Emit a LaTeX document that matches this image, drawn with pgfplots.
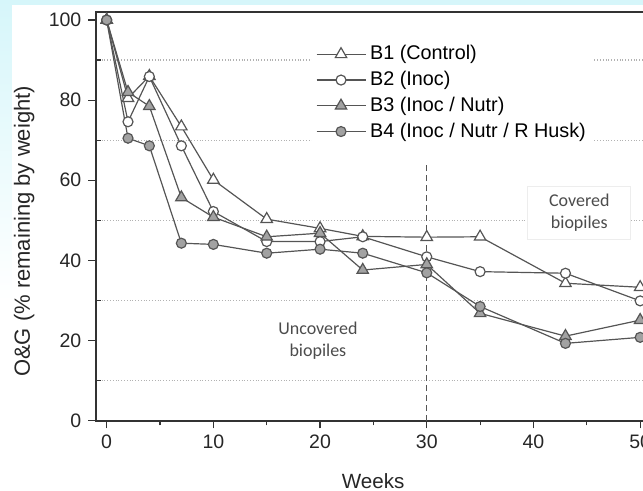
\documentclass[border=0pt]{standalone}
\usepackage{pgfplots}
\pgfplotsset{compat=1.18}
\usepackage{fontspec}
\setmainfont{Liberation Sans}
\newfontfamily\calibri{Carlito}
\definecolor{lc}{HTML}{555555}
\definecolor{fc}{HTML}{A2A2A2}
\definecolor{bgc}{HTML}{D6F6FA}
\begin{document}
\begin{tikzpicture}
\fill[bgc] (-48pt,207.85pt) rectangle (273.5pt,210.35pt);
\shade[top color=bgc, bottom color=white] (-48pt,60pt) rectangle (-42pt,210.35pt);
\begin{axis}[
  at={(0,0)}, anchor=south west,
  scale only axis, width=282.75pt, height=204.35pt,
  xmin=-1, xmax=52, ymin=0, ymax=102,
  axis line style={draw=black!80, line width=0.9pt},
  xtick={0,10,...,50}, minor xtick={5,15,...,45},
  ytick={0,20,...,100}, minor ytick={10,30,...,90},
  tick align=outside, tick pos=left,
  major tick length=3.8pt, minor tick length=2.3pt,
  tick style={draw=black!80, line width=0.6pt},
  minor y tick style={xshift=2.3pt},
  yminorgrids=true,
  minor grid style={densely dotted, draw=black!30, line width=0.6pt},
  /pgf/number format/assume math mode=true,
  tick label style={font=\fontsize{9.75}{11}\selectfont, text=black!85},
  xlabel={Weeks}, ylabel={O\&G (\% remaining by weight)},
  xlabel style={font=\fontsize{10.3}{12}\selectfont, text=black!85, at={(axis description cs:0.49,0)}, anchor=north, yshift=-23pt},
  ylabel style={font=\fontsize{11}{13}\selectfont, text=black!85, at={(axis description cs:-0.127,0.463)}, anchor=center},
  legend style={at={(axis cs:19.2,96.7)}, anchor=north west, draw=none, fill=white,
    font=\fontsize{9.9}{11}\selectfont, row sep=0.2pt, inner xsep=2pt, inner ysep=4pt},
  legend cell align=left,
  legend image code/.code={\draw[mark repeat=2,mark phase=2,#1] plot coordinates {(0pt,0pt) (12.25pt,0pt) (24.5pt,0pt)};},
]
\addplot[color=lc, line width=0.6pt, mark=triangle*, mark size=3.3pt, mark options={solid, fill=white, draw=lc}] coordinates {
(0,100)(2,80.5)(4,86)(7,73.4)(10,60.1)(15,50.3)(20,48)(24,46)(30,45.8)(35,45.9)(43,34.3)(50,33.3)};
\addlegendentry{B1 (Control)}
\addplot[color=lc, line width=0.6pt, mark=*, mark size=2.5pt, mark options={solid, fill=white, draw=lc}] coordinates {
(0,100)(2,74.6)(4,85.9)(7,68.6)(10,52.2)(15,44.7)(20,44.7)(24,45.9)(30,40.9)(35,37.2)(43,36.8)(50,29.9)};
\addlegendentry{B2 (Inoc)}
\addplot[color=lc, line width=0.6pt, mark=triangle*, mark size=3.3pt, mark options={solid, fill=fc, draw=lc}] coordinates {
(0,100)(2,82)(4,78.5)(7,55.7)(10,50.8)(15,45.9)(20,46.8)(24,37.6)(30,39)(35,26.8)(43,21.1)(50,25.1)};
\addlegendentry{B3 (Inoc / Nutr)}
\addplot[color=lc, line width=0.6pt, mark=*, mark size=2.5pt, mark options={solid, fill=fc, draw=lc}] coordinates {
(0,100)(2,70.5)(4,68.6)(7,44.3)(10,44)(15,41.8)(20,42.8)(24,41.8)(30,36.9)(35,28.5)(43,19.3)(50,20.8)};
\addlegendentry{B4 (Inoc / Nutr / R Husk)}
\draw[densely dashed, lc, line width=0.5pt] (axis cs:30,0) -- (axis cs:30,64.3);
\node[font=\calibri\fontsize{9}{11}\selectfont, text=black!70, align=center] at (axis cs:19.8,19.9) {Uncovered\\biopiles};
\node[font=\calibri\fontsize{9}{11}\selectfont, text=black!70, align=center, fill=white, draw=black!7, minimum width=51.5pt, minimum height=26.5pt] at (axis cs:44.3,51.8) {Covered\\biopiles};
\end{axis}
\pgfresetboundingbox
\path[use as bounding box] (-48pt,-35.15pt) rectangle (273.5pt,210.35pt);
\end{tikzpicture}
\end{document}
